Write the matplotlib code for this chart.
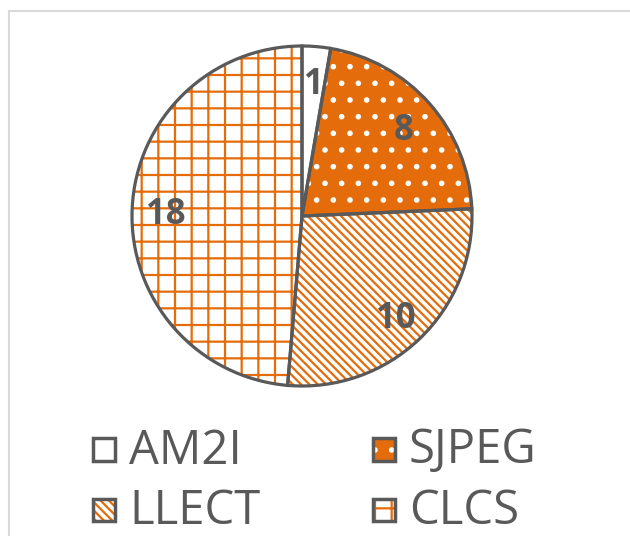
import numpy as np
import matplotlib
matplotlib.use("Agg")
import matplotlib.pyplot as plt
from matplotlib.patches import Rectangle, Wedge
from matplotlib.legend_handler import HandlerBase

# data
labels = ["AM2I", "SJPEG", "LLECT", "CLCS"]
counts = [1, 8, 10, 18]

orange = "#E46C0A"
gray = "#595959"
faces = ["white", orange, "white", "white"]
hatch_cols = ["white", "white", orange, orange]
hatches = ["", ".", "\\\\\\\\", "+"]

plt.rcParams["hatch.linewidth"] = 1.6
plt.rcParams["font.family"] = ["Open Sans", "DejaVu Sans"]

W, H = 630, 536
fig = plt.figure(figsize=(W / 100, H / 100), dpi=100)

# light frame, cropped at right and bottom
fig.add_artist(Rectangle((9 / W, -0.1), 1.2, 1.1 - 11 / H, transform=fig.transFigure,
                         facecolor="none", edgecolor="#d9d9d9", lw=1.5))

cx, cy, r = 302, 216, 170
ax = fig.add_axes([(cx - r) / W, (H - cy - r) / H, 2 * r / W, 2 * r / H])

total = sum(counts)
wedges, texts, autotexts = ax.pie(
    counts, startangle=90, counterclock=False, colors=faces,
    autopct=lambda p: "%d" % round(p * total / 100.0), pctdistance=0.8,
    wedgeprops=dict(linewidth=0))
for w, hc, h in zip(wedges, hatch_cols, hatches):
    w.set_edgecolor(hc)
    w.set_hatch(h)
for t in autotexts:
    t.set_fontsize(25)
    t.set_fontweight("bold")
    t.set_color(gray)
    t.set_va("center_baseline")
    t.set_zorder(5)

# outlines on top
outl, _ = ax.pie(counts, startangle=90, counterclock=False,
                 wedgeprops=dict(facecolor="none", edgecolor=gray, linewidth=2.3))
ax.set_xlim(-1.0, 1.0)
ax.set_ylim(-1.0, 1.0)
ax.set_aspect("equal")
ax.axis("off")


class TwoLayer(HandlerBase):
    def create_artists(self, legend, orig, xd, yd, w, h, fs, trans):
        s = min(w, h)
        x0 = xd + (w - s) / 2
        y0 = yd + (h - s) / 2
        fill = Rectangle((x0, y0), s, s, facecolor=orig.get_facecolor(),
                         edgecolor=orig.get_edgecolor(), hatch=orig.get_hatch(),
                         lw=0, transform=trans)
        box = Rectangle((x0, y0), s, s, facecolor="none", edgecolor=gray,
                        lw=2.5, transform=trans)
        return [fill, box]


order = [0, 2, 1, 3]
leg = fig.legend([wedges[i] for i in order], [labels[i] for i in order],
                 handler_map={Wedge: TwoLayer()},
                 ncol=2, loc="upper left", bbox_to_anchor=(93 / W, 1 - 427 / H),
                 frameon=False, fontsize=34, handlelength=0.47, handleheight=0.62,
                 handletextpad=0.3, columnspacing=2.37, labelspacing=0.28,
                 borderpad=0, borderaxespad=0)
for t in leg.get_texts():
    t.set_color(gray)

fig.savefig("out.png", dpi=100)
